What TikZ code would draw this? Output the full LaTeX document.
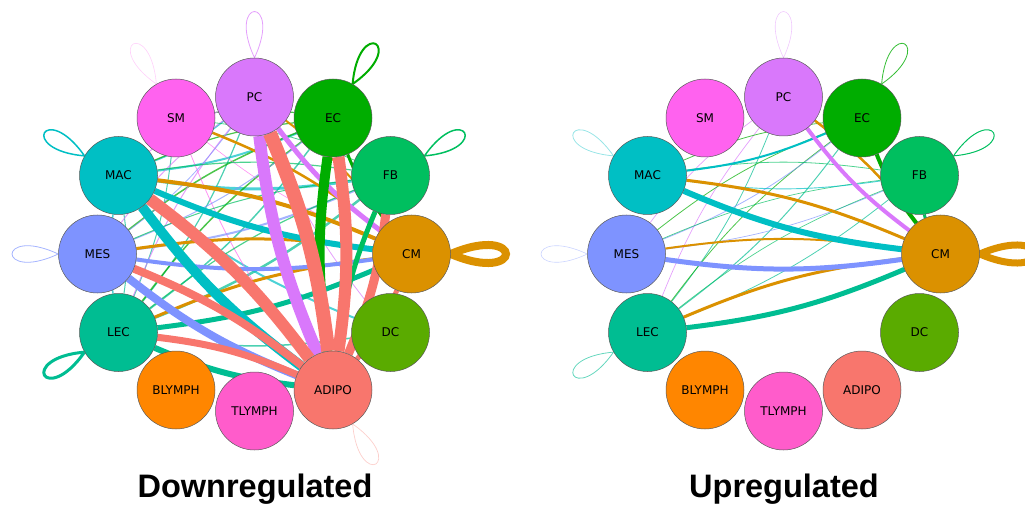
\documentclass[tikz,border=0pt]{standalone}
\usepackage{fontspec}
\newfontfamily\labelfont{DejaVu Sans}
\newfontfamily\titlefont{Liberation Sans}
\usetikzlibrary{backgrounds}

% cell type colours
\definecolor{cSM}{HTML}{FF62EF}
\definecolor{cPC}{HTML}{D978FB}
\definecolor{cEC}{HTML}{00AD00}
\definecolor{cFB}{HTML}{00BF5F}
\definecolor{cCM}{HTML}{DB9100}
\definecolor{cDC}{HTML}{5AAB00}
\definecolor{cADIPO}{HTML}{F8766D}
\definecolor{cTLYMPH}{HTML}{FF5CCB}
\definecolor{cBLYMPH}{HTML}{FF8600}
\definecolor{cLEC}{HTML}{00BD92}
\definecolor{cMES}{HTML}{7E93FF}
\definecolor{cMAC}{HTML}{00BFC4}

\tikzset{
  cell/.style={circle, draw=black!65, line width=0.5pt, minimum size=78pt, inner sep=0pt,
    font=\labelfont\fontsize{12}{14}\selectfont},
  link/.style={bend right=8},
  faint/.style={link, draw opacity=0.7},
  selfloop/.style={distance=68pt},
  title/.style={anchor=base, font=\titlefont\bfseries\fontsize{32.5}{36}\selectfont}
}

\begin{document}
\begin{tikzpicture}[x=1pt, y=1pt]
\useasboundingbox (0,0) rectangle (1025,504);

% Cells of the downregulated network
\node[cell, fill=cPC] (dPC) at (254.5,407) {PC};
\node[cell, fill=cEC] (dEC) at (333,386) {EC};
\node[cell, fill=cFB] (dFB) at (390.5,328.5) {FB};
\node[cell, fill=cCM] (dCM) at (411.5,250) {CM};
\node[cell, fill=cDC] (dDC) at (390.5,171.5) {DC};
\node[cell, fill=cADIPO] (dADIPO) at (333,114) {ADIPO};
\node[cell, fill=cTLYMPH] (dTLYMPH) at (254.5,93) {TLYMPH};
\node[cell, fill=cBLYMPH] (dBLYMPH) at (176,114) {BLYMPH};
\node[cell, fill=cLEC] (dLEC) at (118.5,171.5) {LEC};
\node[cell, fill=cMES] (dMES) at (97.5,250) {MES};
\node[cell, fill=cMAC] (dMAC) at (118.5,328.5) {MAC};
\node[cell, fill=cSM] (dSM) at (176,386) {SM};

% Cells of the upregulated network
\node[cell, fill=cPC] (uPC) at (783.5,407) {PC};
\node[cell, fill=cEC] (uEC) at (862,386) {EC};
\node[cell, fill=cFB] (uFB) at (919.5,328.5) {FB};
\node[cell, fill=cCM] (uCM) at (940.5,250) {CM};
\node[cell, fill=cDC] (uDC) at (919.5,171.5) {DC};
\node[cell, fill=cADIPO] (uADIPO) at (862,114) {ADIPO};
\node[cell, fill=cTLYMPH] (uTLYMPH) at (783.5,93) {TLYMPH};
\node[cell, fill=cBLYMPH] (uBLYMPH) at (705,114) {BLYMPH};
\node[cell, fill=cLEC] (uLEC) at (647.5,171.5) {LEC};
\node[cell, fill=cMES] (uMES) at (626.5,250) {MES};
\node[cell, fill=cMAC] (uMAC) at (647.5,328.5) {MAC};
\node[cell, fill=cSM] (uSM) at (705,386) {SM};

% Titles
\node[title] (downTitle) at (255,7) {Downregulated};
\node[title] (upTitle) at (784,7) {Upregulated};

\begin{pgfonlayer}{background}
% Self loops, downregulated
\draw[cSM!30, line width=0.6pt] (dSM.120) to[out=145, in=95, selfloop] (dSM.120);
\draw[cPC!70, line width=0.8pt] (dPC.90) to[out=115, in=65, selfloop] (dPC.90);
\draw[cEC, line width=2pt] (dEC.60) to[out=85, in=35, selfloop] (dEC.60);
\draw[cFB, line width=1.5pt] (dFB.30) to[out=55, in=5, selfloop] (dFB.30);
\draw[cCM, line width=8pt] (dCM.0) to[out=23, in=-23, distance=80pt] (dCM.0);
\draw[cADIPO!35, line width=0.7pt] (dADIPO.-60) to[out=-35, in=-85, selfloop] (dADIPO.-60);
\draw[cLEC, line width=3pt] (dLEC.210) to[out=235, in=185, selfloop] (dLEC.210);
\draw[cMES!70, line width=0.8pt] (dMES.180) to[out=205, in=155, selfloop] (dMES.180);
\draw[cMAC, line width=1.5pt] (dMAC.150) to[out=175, in=125, selfloop] (dMAC.150);

% Thin links, downregulated
\draw[faint, cLEC, line width=1.2pt] (dLEC) to (dPC);
\draw[faint, cLEC, line width=1.5pt] (dLEC) to (dEC);
\draw[faint, cLEC, line width=2.5pt] (dLEC) to (dFB);
\draw[faint, cLEC, line width=1pt] (dLEC) to (dSM);
\draw[faint, cLEC, line width=1pt] (dLEC) to (dMAC);
\draw[faint, cLEC, line width=1.5pt] (dLEC) to (dDC);
\draw[faint, cMAC, line width=2pt] (dMAC) to (dEC);
\draw[faint, cMAC, line width=3pt] (dMAC) to (dFB);
\draw[faint, cMAC, line width=1.5pt] (dMAC) to (dPC);
\draw[faint, cMAC, line width=2pt] (dMAC) to (dDC);
\draw[faint, cMAC, line width=1.5pt] (dMAC) to (dLEC);
\draw[faint, cEC, line width=1.2pt] (dEC) to (dMAC);
\draw[faint, cEC, line width=1.5pt] (dEC) to (dMES);
\draw[faint, cEC, line width=1.5pt] (dEC) to (dLEC);
\draw[faint, cEC, line width=1.2pt] (dEC) to (dSM);
\draw[faint, cPC, line width=1pt] (dPC) to (dMAC);
\draw[faint, cPC, line width=1pt] (dPC) to (dMES);
\draw[faint, cPC, line width=1pt] (dPC) to (dLEC);
\draw[faint, cPC, line width=0.8pt] (dPC) to (dDC);
\draw[faint, cSM, line width=0.8pt] (dSM) to (dADIPO);
\draw[faint, cSM, line width=0.6pt] (dSM) to (dCM);
\draw[faint, cMES, line width=1pt] (dMES) to (dEC);
\draw[faint, cMES, line width=0.8pt] (dMES) to (dPC);
\draw[faint, cMES, line width=2pt] (dMES) to (dFB);
\draw[faint, cFB, line width=1.2pt] (dFB) to (dMAC);
\draw[faint, cFB, line width=1pt] (dFB) to (dMES);
\draw[faint, cFB, line width=1.2pt] (dFB) to (dLEC);
\draw[faint, cFB, line width=0.8pt] (dFB) to (dSM);

% Strong links, downregulated
\draw[link, cCM, line width=4pt] (dCM) to (dMAC);
\draw[link, cCM, line width=3pt] (dCM) to (dMES);
\draw[link, cCM, line width=3pt] (dCM) to (dLEC);
\draw[link, cCM, line width=2.5pt] (dCM) to (dSM);
\draw[link, cCM, line width=2pt] (dCM) to (dPC);
\draw[link, cMAC, line width=6pt] (dMAC) to (dCM);
\draw[link, cMES, line width=4pt] (dMES) to (dCM);
\draw[link, cLEC, line width=5pt] (dLEC) to (dCM);
\draw[link, cPC, line width=5pt] (dPC) to (dCM);
\draw[link, cEC, line width=3pt] (dEC) to (dCM);
\draw[link, cFB, line width=5pt] (dFB) to (dADIPO);
\draw[link, cLEC, line width=6pt] (dLEC) to (dADIPO);
\draw[link, cMES, line width=8pt] (dMES) to (dADIPO);
\draw[link, cMAC, line width=10pt] (dMAC) to (dADIPO);
\draw[link, cEC, line width=10pt] (dEC) to (dADIPO);
\draw[link, cPC, line width=12pt] (dPC) to (dADIPO);

% Links sent by ADIPO
\draw[link, cADIPO, line width=5pt] (dADIPO) to (dCM);
\draw[link, cADIPO, line width=9pt] (dADIPO) to (dFB);
\draw[link, cADIPO, line width=12pt] (dADIPO) to (dEC);
\draw[link, cADIPO, line width=14pt] (dADIPO) to (dPC);
\draw[link, cADIPO, line width=12pt] (dADIPO) to (dMAC);
\draw[link, cADIPO, line width=8pt] (dADIPO) to (dMES);
\draw[link, cADIPO, line width=7pt] (dADIPO) to (dLEC);

% Self loops, upregulated
\draw[cPC!40, line width=0.6pt] (uPC.90) to[out=115, in=65, selfloop] (uPC.90);
\draw[cEC!80, line width=0.8pt] (uEC.60) to[out=85, in=35, selfloop] (uEC.60);
\draw[cFB, line width=1pt] (uFB.30) to[out=55, in=5, selfloop] (uFB.30);
\draw[cCM, line width=7pt] (uCM.0) to[out=23, in=-23, distance=80pt] (uCM.0);
\draw[cLEC!60, line width=0.8pt] (uLEC.210) to[out=235, in=185, selfloop] (uLEC.210);
\draw[cMES!40, line width=0.6pt] (uMES.180) to[out=205, in=155, selfloop] (uMES.180);
\draw[cMAC!40, line width=0.8pt] (uMAC.150) to[out=175, in=125, selfloop] (uMAC.150);

% Thin links, upregulated
\draw[faint, cLEC, line width=1pt] (uLEC) to (uEC);
\draw[faint, cLEC, line width=0.8pt] (uLEC) to (uFB);
\draw[faint, cLEC, line width=0.8pt] (uLEC) to (uPC);
\draw[faint, cPC, line width=0.7pt] (uPC) to (uLEC);
\draw[faint, cPC, line width=0.7pt] (uPC) to (uMES);
\draw[faint, cEC, line width=0.8pt] (uEC) to (uLEC);
\draw[faint, cEC, line width=0.8pt] (uEC) to (uMES);
\draw[faint, cEC, line width=0.8pt] (uEC) to (uMAC);
\draw[faint, cMES, line width=0.8pt] (uMES) to (uEC);
\draw[faint, cMES, line width=0.7pt] (uMES) to (uFB);
\draw[faint, cFB, line width=0.7pt] (uFB) to (uMES);
\draw[faint, cFB, line width=0.7pt] (uFB) to (uLEC);
\draw[faint, cMAC, line width=0.9pt] (uMAC) to (uFB);
\draw[faint, cFB, line width=0.8pt] (uFB) to (uMAC);

% Strong links, upregulated
\draw[link, cMAC, line width=2pt] (uMAC) to (uEC);
\draw[link, cCM, line width=3pt] (uCM) to (uMAC);
\draw[link, cCM, line width=2pt] (uCM) to (uMES);
\draw[link, cCM, line width=3pt] (uCM) to (uLEC);
\draw[link, cCM, line width=2.5pt] (uCM) to (uPC);
\draw[link, cEC, line width=4pt] (uEC) to (uCM);
\draw[link, cFB, line width=3pt] (uFB) to (uCM);
\draw[link, cPC, line width=4pt] (uPC) to (uCM);
\draw[link, cMAC, line width=6pt] (uMAC) to (uCM);
\draw[link, cMES, line width=5pt] (uMES) to (uCM);
\draw[link, cLEC, line width=5pt] (uLEC) to (uCM);
\end{pgfonlayer}

\end{tikzpicture}
\end{document}
